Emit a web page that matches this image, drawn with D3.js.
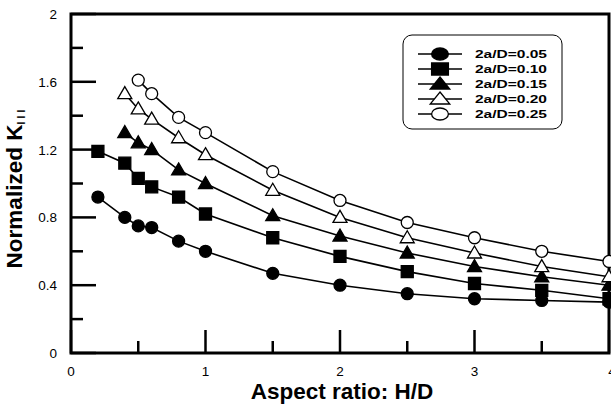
<!DOCTYPE html>
<html>
<head>
<meta charset="utf-8">
<script src="https://cdn.jsdelivr.net/npm/d3@7"></script>
<style>
  body { margin: 0; background: #fff; }
  svg { display: block; font-family: "Liberation Sans", Arial, sans-serif; }
</style>
</head>
<body>
<div id="chart"></div>
<script>
// aspect ratio H/D
const xValues = [0.2, 0.4, 0.5, 0.6, 0.8, 1.0, 1.5, 2.0, 2.5, 3.0, 3.5, 4.0];

// normalized K_III per crack size
const k005 = [0.92, 0.80, 0.75, 0.74, 0.66, 0.60, 0.47, 0.40, 0.35, 0.32, 0.31, 0.30];
const k010 = [1.19, 1.12, 1.03, 0.98, 0.92, 0.82, 0.68, 0.57, 0.48, 0.41, 0.37, 0.32];
const k015 = [null, 1.30, 1.24, 1.20, 1.08, 1.00, 0.81, 0.69, 0.59, 0.51, 0.45, 0.40];
const k020 = [null, 1.53, 1.44, 1.38, 1.27, 1.17, 0.96, 0.80, 0.68, 0.59, 0.51, 0.45];
const k025 = [null, null, 1.61, 1.53, 1.39, 1.30, 1.07, 0.90, 0.77, 0.68, 0.60, 0.54];

const seriesNames = ["2a/D=0.05", "2a/D=0.10", "2a/D=0.15", "2a/D=0.20", "2a/D=0.25"];
const seriesShapes = ["circle", "square", "triangle", "triangle-open", "circle-open"];
const seriesValues = [k005, k010, k015, k020, k025];

const xTicks = [0, 1, 2, 3, 4];
const xMinor = [0.5, 1.5, 2.5, 3.5];
const yTicks = [0, 0.4, 0.8, 1.2, 1.6, 2];
const yMinor = [0.2, 0.6, 1.0, 1.4, 1.8];

const width = 611, height = 405;
const margin = { left: 71, right: 2, top: 14, bottom: 52 };

const svg = d3.select("#chart").append("svg")
  .attr("width", width)
  .attr("height", height);

const x = d3.scaleLinear().domain([0, 4]).range([margin.left, width - margin.right]);
const y = d3.scaleLinear().domain([0, 2]).range([height - margin.bottom, margin.top]);

// inward ticks
const g = svg.append("g");
yTicks.forEach(t => {
  g.append("line").attr("x1", x(0)).attr("x2", x(0) + 25)
    .attr("y1", y(t)).attr("y2", y(t)).attr("stroke", "#000").attr("stroke-width", 2.5);
});
yMinor.forEach(t => {
  g.append("line").attr("x1", x(0)).attr("x2", x(0) + 12)
    .attr("y1", y(t)).attr("y2", y(t)).attr("stroke", "#000").attr("stroke-width", 2.5);
});
xTicks.forEach(t => {
  g.append("line").attr("x1", x(t)).attr("x2", x(t))
    .attr("y1", y(0)).attr("y2", y(0) - 23).attr("stroke", "#000").attr("stroke-width", 2.5);
});
xMinor.forEach(t => {
  g.append("line").attr("x1", x(t)).attr("x2", x(t))
    .attr("y1", y(0)).attr("y2", y(0) - 12).attr("stroke", "#000").attr("stroke-width", 2.5);
});

// frame
svg.append("rect")
  .attr("x", x(0)).attr("y", y(2))
  .attr("width", x(4) - x(0)).attr("height", y(0) - y(2))
  .attr("fill", "none").attr("stroke", "#000").attr("stroke-width", 3);

// tick labels
svg.append("g").selectAll("text")
  .data(yTicks).enter().append("text")
  .attr("x", x(0) - 14).attr("y", d => y(d) + 5)
  .attr("text-anchor", "end").attr("font-size", 13.5)
  .text(d => d3.format("")(d));

svg.append("g").selectAll("text")
  .data(xTicks).enter().append("text")
  .attr("x", d => x(d) + (d === 4 ? 3 : 0)).attr("y", y(0) + 23)
  .attr("text-anchor", "middle").attr("font-size", 13.5)
  .text(d => d);

// axis titles
svg.append("text")
  .attr("x", 342).attr("y", 399)
  .attr("text-anchor", "middle").attr("font-size", 22.5).attr("font-weight", "bold")
  .text("Aspect ratio: H/D");

const yTitle = svg.append("text")
  .attr("transform", "translate(22,189) rotate(-90)")
  .attr("text-anchor", "middle").attr("font-size", 22.5).attr("font-weight", "bold");
yTitle.append("tspan").text("Normalized K");
yTitle.append("tspan").attr("font-size", 10).attr("dy", 3)
  .attr("textLength", 15).attr("lengthAdjust", "spacing").text("III");

function drawMarker(sel, shape) {
  if (shape.startsWith("circle")) {
    sel.append("circle").attr("r", 6);
  } else if (shape === "square") {
    sel.append("rect").attr("x", -6).attr("y", -6).attr("width", 12).attr("height", 12);
  } else {
    sel.append("path").attr("d", "M0,-7L7,5L-7,5Z");
  }
  const open = shape.endsWith("open");
  sel.selectAll("*")
    .attr("fill", open ? "#fff" : "#000")
    .attr("stroke", "#000")
    .attr("stroke-width", 1.3)
    .attr("vector-effect", "non-scaling-stroke");
}

const line = d3.line()
  .x(d => x(d[0]))
  .y(d => y(d[1]));

seriesValues.forEach((vals, i) => {
  const pts = xValues.map((xv, j) => [xv, vals[j]]).filter(p => p[1] != null);
  svg.append("path")
    .datum(pts)
    .attr("d", line)
    .attr("fill", "none")
    .attr("stroke", "#000")
    .attr("stroke-width", 1.6);
  pts.forEach(p => {
    const m = svg.append("g").attr("transform", `translate(${x(p[0])},${y(p[1])})`);
    drawMarker(m, seriesShapes[i]);
  });
});

// legend (drawn horizontally stretched, as in the source figure)
const legend = svg.append("g");
legend.append("rect")
  .attr("x", 403).attr("y", 35).attr("width", 159).attr("height", 94)
  .attr("rx", 9).attr("fill", "#fff").attr("stroke", "#000").attr("stroke-width", 1);
seriesNames.forEach((name, i) => {
  const ly = 54 + i * 15;
  legend.append("line").attr("x1", 418).attr("x2", 462).attr("y1", ly).attr("y2", ly)
    .attr("stroke", "#000").attr("stroke-width", 1.6);
  const m = legend.append("g").attr("transform", `translate(440,${ly}) scale(1.4,1)`);
  drawMarker(m, seriesShapes[i]);
  legend.append("text").attr("x", 475).attr("y", ly + 4)
    .attr("font-size", 11).attr("font-weight", "bold")
    .attr("textLength", 72).attr("lengthAdjust", "spacingAndGlyphs")
    .text(name);
});
</script>
</body>
</html>
